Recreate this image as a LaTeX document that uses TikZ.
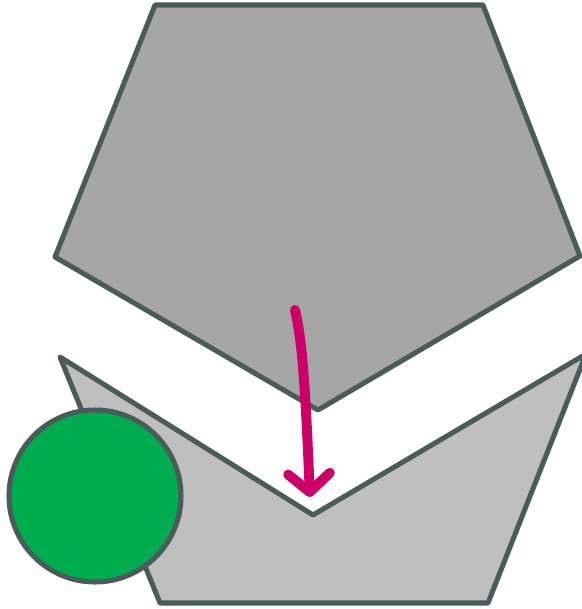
\documentclass[tikz,border=0pt]{standalone}
\usetikzlibrary{arrows.meta}
\definecolor{edge}{RGB}{74,92,90}
\definecolor{upper}{RGB}{166,166,166}
\definecolor{lower}{RGB}{191,191,191}
\definecolor{ball}{RGB}{0,173,78}
\definecolor{push}{RGB}{204,0,104}
\tikzset{
  plate/.style={draw=edge,line width=4.3pt,line join=round},
}
\begin{document}
\begin{tikzpicture}[x=0.03cm,y=-0.03cm]
\useasboundingbox (0,0) rectangle (582,609);
\clip (0,0) rectangle (582,609);
\draw[plate,fill=upper] (155,5)--(483,5)--(580,256)--(318,410)--(55,257)--cycle;
\draw[plate,fill=lower] (60,357)--(313,515)--(586,354)--(488,603)--(160,603)--cycle;
\node[circle,draw=edge,fill=ball,line width=4.3pt,minimum size=5.16cm,inner sep=0pt] (disc) at (95,496) {};
\coordinate (from) at (295,310);
\coordinate (to) at (310,497);
\draw[push,line width=8.5pt,line cap=round,-{Straight Barb[length=0.55cm,width=1.25cm,round]}]
  (from) .. controls (302,340) and (305,380) .. (to);
\end{tikzpicture}
\end{document}
